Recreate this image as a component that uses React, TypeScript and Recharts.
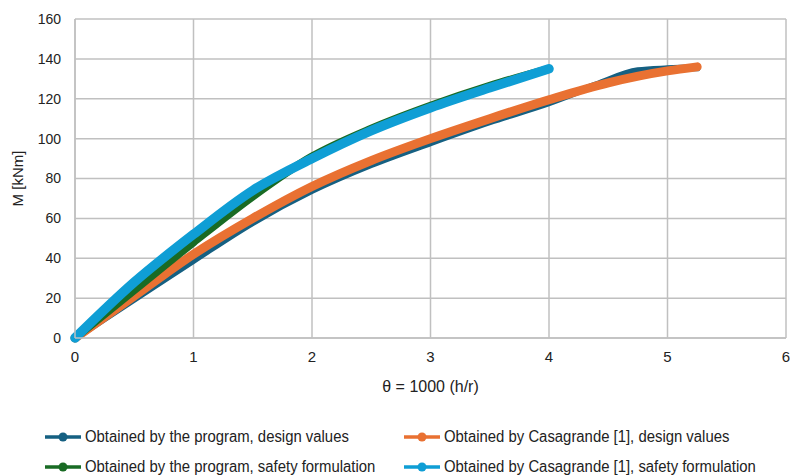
import React from 'react';
import { LineChart, Line, XAxis, YAxis, CartesianGrid } from 'recharts';

document.body.style.margin = '0';

const programDesign = [
  { t: 0, m: 0 }, { t: 0.5, m: 19.5 }, { t: 1, m: 39 }, { t: 1.5, m: 58 }, { t: 2, m: 74 },
  { t: 2.5, m: 87 }, { t: 3, m: 98 }, { t: 3.5, m: 108.5 }, { t: 4, m: 118 }, { t: 4.4, m: 127 },
  { t: 4.75, m: 134 }, { t: 5, m: 135 }, { t: 5.25, m: 135.5 },
];
const casagrandeDesign = [
  { t: 0, m: 0 }, { t: 0.5, m: 21 }, { t: 1, m: 42 }, { t: 1.5, m: 60 }, { t: 2, m: 76 },
  { t: 2.5, m: 89 }, { t: 3, m: 100 }, { t: 3.5, m: 110 }, { t: 4, m: 119.5 }, { t: 4.5, m: 128 },
  { t: 5, m: 134 }, { t: 5.25, m: 136 },
];
const programSafety = [
  { t: 0, m: 0 }, { t: 0.5, m: 24 }, { t: 1, m: 48 }, { t: 1.5, m: 71 }, { t: 2, m: 91 },
  { t: 2.5, m: 105 }, { t: 3, m: 116.5 }, { t: 3.5, m: 126.5 }, { t: 4, m: 135 },
];
const casagrandeSafety = [
  { t: 0, m: 0 }, { t: 0.5, m: 28 }, { t: 1, m: 52 }, { t: 1.5, m: 74 }, { t: 2, m: 90 },
  { t: 2.5, m: 104 }, { t: 3, m: 115.5 }, { t: 3.5, m: 125.5 }, { t: 4, m: 135 },
];

const xTicks = [0, 1, 2, 3, 4, 5, 6];
const yTicks = [0, 20, 40, 60, 80, 100, 120, 140, 160];

const series = [
  { name: 'Obtained by the program, design values', color: '#156082', data: programDesign, width: 7 },
  { name: 'Obtained by Casagrande [1], design values', color: '#E97132', data: casagrandeDesign, width: 9 },
  { name: 'Obtained by the program, safety formulation', color: '#196B24', data: programSafety, width: 8 },
  { name: 'Obtained by Casagrande [1], safety formulation', color: '#0F9ED5', data: casagrandeSafety, width: 9.5 },
];

const sans = '"Liberation Sans", Arial, sans-serif';

function LegendBox() {
  return (
    <div style={{ position: 'absolute', left: 44, top: 428, display: 'grid', gridTemplateColumns: '359px 340px', rowGap: 12, fontFamily: sans, fontSize: 16, color: '#222' }}>
      {series.map((s) => (
        <div key={s.name} style={{ display: 'flex', alignItems: 'center', height: 18, whiteSpace: 'nowrap' }}>
          <svg width={38} height={12} style={{ marginRight: 3, flex: 'none' }}>
            <line x1={1} y1={6} x2={37} y2={6} stroke={s.color} strokeWidth={3.5} />
            <circle cx={19} cy={6} r={4.5} fill={s.color} />
          </svg>
          <span style={{ display: 'inline-block', transform: 'scaleX(0.93)', transformOrigin: 'left center' }}>{s.name}</span>
        </div>
      ))}
    </div>
  );
}

export default function App() {
  return (
    <div style={{ position: 'relative', width: 790, height: 475, background: '#fff' }}>
      <LineChart width={790} height={475} margin={{ top: 19, right: 4, bottom: 77, left: 0 }}>
        <CartesianGrid stroke="#c0c0c0" strokeWidth={1.5} />
        <XAxis
          type="number"
          dataKey="t"
          domain={[0, 6]}
          ticks={xTicks}
          allowDuplicatedCategory={false}
          height={60}
          stroke="#c0c0c0"
          strokeWidth={1.5}
          tickLine={false}
          tickSize={4}
          tickMargin={9}
          tick={{ fill: '#222', fontSize: 15, fontFamily: sans }}
          label={{ value: 'θ = 1000 (h/r)', position: 'insideBottom', offset: 6, fill: '#222', fontSize: 16, fontFamily: sans }}
        />
        <YAxis
          type="number"
          domain={[0, 160]}
          ticks={yTicks}
          width={75}
          stroke="#c0c0c0"
          strokeWidth={1.5}
          tickLine={false}
          tickSize={6}
          tickMargin={8}
          tick={{ fill: '#222', fontSize: 14, fontFamily: sans }}
          label={{ value: 'M [kNm]', angle: -90, position: 'insideLeft', offset: 18, fill: '#222', fontSize: 15, fontFamily: sans, style: { textAnchor: 'middle' } }}
        />
        {series.map((s) => (
          <Line
            key={s.name}
            data={s.data}
            dataKey="m"
            name={s.name}
            type="monotone"
            stroke={s.color}
            strokeWidth={s.width}
            strokeLinecap="round"
            strokeLinejoin="round"
            dot={false}
            activeDot={false}
            isAnimationActive={false}
          />
        ))}
      </LineChart>
      <LegendBox />
    </div>
  );
}
